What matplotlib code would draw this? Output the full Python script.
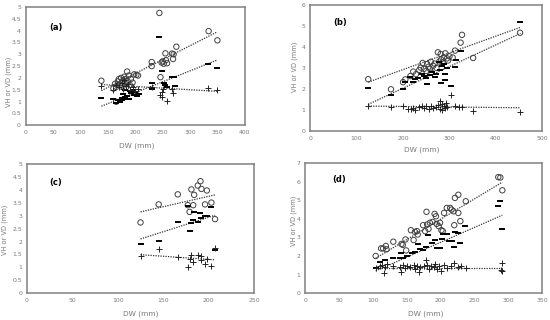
import matplotlib
matplotlib.use("Agg")
import matplotlib.pyplot as plt
import numpy as np

# ---------------- Panel (a) ----------------
a_circ_x = [138, 160, 163, 165, 168, 170, 172, 174, 175, 177, 178, 180, 181, 182, 183, 185, 186, 188, 190, 192,
            195, 198, 202, 205, 165, 230, 230, 244, 246, 248, 250, 252, 255, 256, 258, 267, 269, 270, 275, 334, 350]
a_circ_y = [1.88, 1.55, 1.75, 1.62, 1.85, 1.95, 1.7, 2.0, 1.8, 1.65, 1.9, 2.05, 1.75, 1.95, 1.6, 2.27, 1.85, 2.1, 1.7, 1.95,
            1.8, 2.15, 2.13, 2.1, 0.99, 2.67, 2.5, 4.75, 2.03, 2.65, 2.7, 2.6, 3.04, 2.75, 2.62, 3.03, 2.8, 3.0, 3.32, 3.98, 3.59]
a_dash_x = [138, 160, 165, 168, 172, 175, 178, 180, 182, 185, 188, 190, 192, 195, 198, 200, 203, 207, 230, 230,
            244, 248, 252, 255, 258, 267, 271, 273, 333, 350, 182, 176]
a_dash_y = [1.15, 1.1, 0.95, 1.05, 1.0, 1.15, 1.3, 1.1, 1.2, 1.25, 1.12, 1.45, 1.35, 1.5, 1.28, 1.4, 1.22, 1.3, 1.78, 1.53,
            3.74, 2.28, 1.8, 1.71, 1.6, 2.03, 2.03, 1.67, 2.58, 2.41, 1.5, 1.05]
a_plus_x = [138, 160, 165, 170, 175, 178, 180, 183, 186, 190, 195, 200, 205, 230, 245, 248, 249, 250, 258, 267, 269, 333, 350]
a_plus_y = [1.67, 1.5, 1.72, 1.6, 1.8, 1.55, 1.9, 1.65, 1.75, 1.5, 1.62, 1.45, 1.55, 1.61, 1.29, 1.41, 1.18, 1.55, 1.04,
            1.53, 1.36, 1.57, 1.5]
a_trend_x = [138, 350]
a_trend_circ = [1.46, 3.95]
a_trend_dash = [0.80, 2.76]
a_trend_plus = [1.72, 1.43]

# ---------------- Panel (b) ----------------
b_circ_x = [125, 174, 200, 205, 216, 222, 228, 235, 238, 242, 245, 250, 252, 255, 258, 260, 261, 265, 268, 272,
            275, 278, 281, 282, 285, 288, 291, 295, 297, 300, 307, 312, 324, 327, 351, 452]
b_circ_y = [2.46, 1.98, 2.32, 2.45, 2.61, 2.82, 2.7, 2.9, 3.01, 3.23, 2.95, 2.85, 3.18, 3.05, 2.95, 3.29, 2.77, 3.1, 3.2, 3.0,
            3.74, 3.3, 3.66, 3.4, 3.25, 3.5, 3.69, 3.45, 3.35, 3.55, 3.49, 3.82, 4.2, 4.57, 3.47, 4.67]
b_dash_x = [125, 174, 200, 204, 216, 222, 226, 232, 240, 245, 250, 252, 258, 262, 268, 272, 277, 280, 282, 285,
            288, 290, 291, 295, 304, 312, 314, 325, 451]
b_dash_y = [2.04, 1.69, 1.98, 2.32, 2.56, 2.33, 2.45, 2.5, 2.69, 2.6, 2.5, 2.25, 2.65, 2.8, 2.55, 2.7, 3.26, 2.9, 2.29, 3.1,
            3.2, 2.72, 2.4, 3.0, 2.12, 3.05, 3.37, 3.82, 5.2]
b_plus_x = [125, 174, 200, 210, 218, 222, 226, 235, 240, 245, 250, 255, 260, 265, 270, 275, 279, 280, 283, 285,
            288, 290, 292, 295, 304, 312, 320, 328, 350, 452]
b_plus_y = [1.2, 1.15, 1.18, 1.05, 1.04, 1.1, 1.0, 1.15, 1.2, 1.1, 1.18, 1.05, 1.2, 1.1, 1.15, 1.25, 1.43, 1.05, 1.3, 0.98,
            1.2, 1.1, 1.35, 1.15, 1.69, 1.2, 1.12, 1.15, 0.96, 0.88]
b_trend_x = [125, 453]
b_trend_circ = [2.32, 4.93]
b_trend_dash = [1.26, 4.64]
b_trend_plus = [1.18, 1.10]

# ---------------- Panel (c) ----------------
c_circ_x = [125, 145, 166, 177, 179, 181, 183, 184, 188, 191, 192, 196, 198, 203, 207]
c_circ_y = [2.74, 3.44, 3.83, 3.41, 3.15, 4.02, 3.41, 3.81, 4.17, 4.34, 4.04, 3.44, 3.98, 3.51, 2.87]
c_dash_x = [125, 145, 166, 177, 179, 181, 183, 184, 188, 191, 192, 196, 198, 203, 207]
c_dash_y = [1.89, 2.03, 2.74, 3.38, 2.42, 2.73, 2.85, 3.15, 2.77, 3.09, 2.92, 3.0, 2.98, 3.32, 1.68]
c_plus_x = [125, 145, 166, 177, 179, 181, 183, 188, 192, 192, 196, 198, 203, 207]
c_plus_y = [1.44, 1.71, 1.40, 1.02, 1.33, 1.47, 1.2, 1.49, 1.45, 1.3, 1.14, 1.33, 1.07, 1.75]
c_trend_x = [125, 207]
c_trend_circ = [3.15, 3.81]
c_trend_dash = [2.10, 3.02]
c_trend_plus = [1.49, 1.29]

# ---------------- Panel (d) ----------------
d_circ_x = [104, 112, 115, 119, 120, 130, 142, 144, 148, 149, 156, 160, 162, 165, 166, 174, 177, 179, 180, 182,
            184, 188, 191, 193, 194, 197, 199, 201, 203, 205, 209, 214, 216, 219, 220, 221, 226, 226, 229, 237,
            285, 288, 291]
d_circ_y = [2.0, 2.41, 2.41, 2.54, 2.36, 2.77, 2.65, 2.6, 2.89, 2.3, 3.39, 2.86, 3.3, 3.34, 3.16, 3.66, 3.34, 4.38, 3.7, 3.46,
            3.79, 3.84, 4.27, 4.14, 3.73, 3.61, 3.79, 3.39, 3.34, 4.32, 4.59, 4.59, 4.5, 4.41, 3.66, 5.13, 5.3, 4.32, 3.88, 4.95,
            6.25, 6.23, 5.54]
d_dash_x = [104, 110, 118, 129, 140, 142, 145, 150, 157, 162, 166, 170, 174, 179, 181, 187, 192, 194, 199, 202,
            204, 209, 212, 216, 219, 221, 226, 229, 236, 285, 288, 291]
d_dash_y = [1.38, 1.7, 1.8, 1.91, 1.91, 2.18, 1.88, 2.0, 2.18, 2.23, 2.62, 2.36, 2.3, 2.48, 3.13, 2.71, 2.84, 2.41, 2.41, 2.89,
            3.16, 3.16, 2.8, 2.8, 2.48, 3.32, 3.25, 2.71, 3.61, 4.68, 4.98, 3.43]
d_plus_x = [104, 110, 113, 116, 118, 120, 130, 140, 142, 145, 148, 150, 155, 160, 162, 165, 168, 170, 175, 178,
            180, 182, 185, 190, 192, 195, 198, 200, 205, 210, 215, 220, 225, 230, 238, 289, 290, 291]
d_plus_y = [1.35, 1.45, 1.5, 1.1, 1.4, 1.55, 1.45, 1.4, 1.15, 1.5, 1.35, 1.45, 1.4, 1.5, 1.3, 1.45, 1.15, 1.4, 1.45, 1.8,
            1.5, 1.3, 1.45, 1.4, 1.55, 1.3, 1.45, 1.2, 1.5, 1.35, 1.45, 1.6, 1.4, 1.45, 1.38, 1.25, 1.2, 1.6]
d_trend_x = [104, 291]
d_trend_circ = [1.88, 5.98]
d_trend_dash = [1.20, 4.20]
d_trend_plus = [1.38, 1.38]

panels = [
    dict(label="(a)", rect=[0.047, 0.609, 0.398, 0.369], xlim=400, xstep=50, ylim=5, ystep=0.5,
         cx=a_circ_x, cy=a_circ_y, dx=a_dash_x, dy=a_dash_y, px=a_plus_x, py=a_plus_y,
         tx=a_trend_x, tc=a_trend_circ, td=a_trend_dash, tp=a_trend_plus,
         lab=(0.105, 0.83), ylab=(-0.062, 0.37), xlab=(0.507, -0.15)),
    dict(label="(b)", rect=[0.564, 0.591, 0.422, 0.394], xlim=500, xstep=100, ylim=6, ystep=1,
         cx=b_circ_x, cy=b_circ_y, dx=b_dash_x, dy=b_dash_y, px=b_plus_x, py=b_plus_y,
         tx=b_trend_x, tc=b_trend_circ, td=b_trend_dash, tp=b_trend_plus,
         lab=(0.10, 0.857), ylab=(-0.054, 0.51), xlab=(0.48, -0.125)),
    dict(label="(c)", rect=[0.049, 0.084, 0.413, 0.403], xlim=250, xstep=50, ylim=5, ystep=0.5,
         cx=c_circ_x, cy=c_circ_y, dx=c_dash_x, dy=c_dash_y, px=c_plus_x, py=c_plus_y,
         tx=c_trend_x, tc=c_trend_circ, td=c_trend_dash, tp=c_trend_plus,
         lab=(0.097, 0.86), ylab=(-0.082, 0.49), xlab=(0.50, -0.135)),
    dict(label="(d)", rect=[0.555, 0.084, 0.431, 0.406], xlim=350, xstep=50, ylim=7, ystep=1,
         cx=d_circ_x, cy=d_circ_y, dx=d_dash_x, dy=d_dash_y, px=d_plus_x, py=d_plus_y,
         tx=d_trend_x, tc=d_trend_circ, td=d_trend_dash, tp=d_trend_plus,
         lab=(0.114, 0.877), ylab=(-0.034, 0.56), xlab=(0.51, -0.135)),
]

fig = plt.figure(figsize=(5.5, 3.2), dpi=100)
fig.patch.set_facecolor("white")
grey = "#808080"
txtgrey = "#7a7a7a"

def fmt(v):
    s = ("%.1f" % v).rstrip("0").rstrip(".")
    return s

for p in panels:
    ax = fig.add_axes(p["rect"])
    ax.set_xlim(0, p["xlim"])
    ax.set_ylim(0, p["ylim"])
    for s in ax.spines.values():
        s.set_color(grey)
        s.set_linewidth(1.1)
    xt = np.arange(0, p["xlim"] + 1e-9, p["xstep"])
    yt = np.arange(0, p["ylim"] + 1e-9, p["ystep"])
    ax.set_xticks(xt)
    ax.set_yticks(yt)
    ax.set_xticklabels([fmt(v) for v in xt])
    ax.set_yticklabels([fmt(v) for v in yt])
    ax.tick_params(length=0, labelsize=4.4, labelcolor=txtgrey, pad=3.5)

    ax.plot(p["tx"], p["tc"], color="#333333", lw=0.9, ls=(0, (1, 1)), zorder=2)
    ax.plot(p["tx"], p["td"], color="#333333", lw=0.9, ls=(0, (1, 1)), zorder=2)
    ax.plot(p["tx"], p["tp"], color="#333333", lw=0.9, ls=(0, (1, 1)), zorder=2)

    ax.scatter(p["cx"], p["cy"], s=15, facecolors="none", edgecolors="#404040", linewidths=0.7, zorder=3)
    ax.scatter(p["dx"], p["dy"], s=16, marker="_", color="black", linewidths=1.4, zorder=3)
    ax.scatter(p["px"], p["py"], s=16, marker="+", color="#222222", linewidths=0.7, zorder=3)

    ax.text(p["lab"][0], p["lab"][1], p["label"], transform=ax.transAxes, fontsize=6,
            fontweight="bold", color="black", ha="left", va="center")
    ax.set_ylabel("VH or VD (mm)", fontsize=4.8, color=txtgrey)
    ax.yaxis.set_label_coords(p["ylab"][0], p["ylab"][1])
    ax.set_xlabel("DW (mm)", fontsize=5.3, color=txtgrey)
    ax.xaxis.set_label_coords(p["xlab"][0], p["xlab"][1])

fig.savefig("out.png", dpi=100)
